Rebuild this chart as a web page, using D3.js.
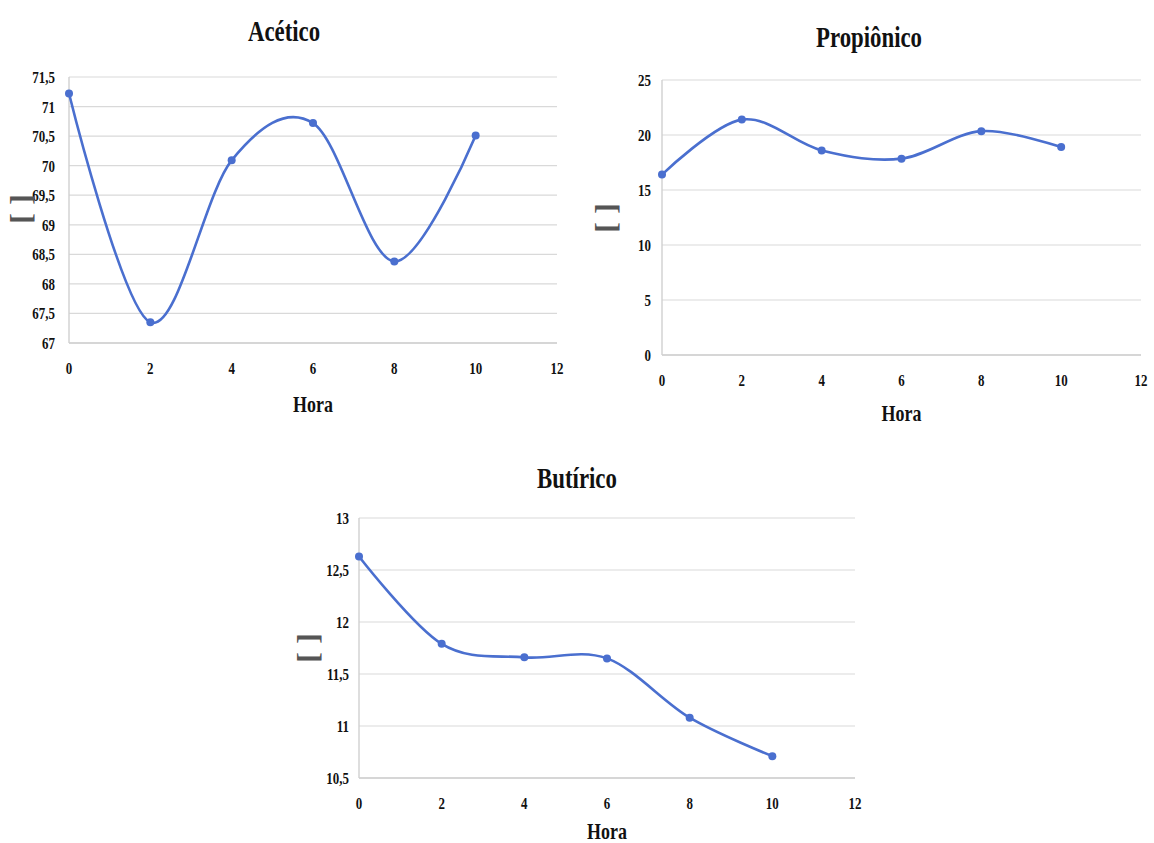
<!DOCTYPE html>
<html><head><meta charset="utf-8">
<script src="https://cdn.jsdelivr.net/npm/d3@7"></script>
<style>body{margin:0;background:#fff}svg{display:block}</style>
</head><body>
<svg id="c" width="1154" height="843"></svg>
<script>
const hours = [0, 2, 4, 6, 8, 10];
const xTicks = [0, 2, 4, 6, 8, 10, 12];

const aceticoValues = [71.22, 67.35, 70.09, 70.72, 68.38, 70.51];
const aceticoTicks = [67, 67.5, 68, 68.5, 69, 69.5, 70, 70.5, 71, 71.5];

const propionicoValues = [16.4, 21.4, 18.6, 17.85, 20.35, 18.9];
const propionicoTicks = [0, 5, 10, 15, 20, 25];

const butiricoValues = [12.63, 11.79, 11.66, 11.65, 11.08, 10.71];
const butiricoTicks = [10.5, 11, 11.5, 12, 12.5, 13];

const titles = ["Acético", "Propiônico", "Butírico"];
const xLabel = "Hora";
const yLabel = "[ ]";

const svg = d3.select("#c");
const FONT = "'Liberation Serif', 'Times New Roman', serif";
const fmt = v => String(v).replace(".", ",");

function txt(g, x, y, s, size, anchor, color, rot, sx) {
  g.append("text")
    .attr("transform", `translate(${x},${y})${rot ? " rotate(" + rot + ")" : ""} scale(${sx || 0.8},1)`)
    .attr("text-anchor", anchor)
    .attr("font-family", FONT).attr("font-weight", "bold")
    .attr("font-size", size).attr("fill", color).text(s);
}

function chart(cfg) {
  const g = svg.append("g");
  const x = d3.scaleLinear().domain([0, 12]).range([cfg.l, cfg.r]);
  const yd = d3.extent(cfg.ticks);
  const y = d3.scaleLinear().domain(yd).range([cfg.b, cfg.t]);

  // gridlines
  g.append("g").selectAll("line").data(cfg.ticks.slice(1)).join("line")
    .attr("x1", cfg.l).attr("x2", cfg.r)
    .attr("y1", d => y(d)).attr("y2", d => y(d))
    .attr("stroke", "#d9d9d9").attr("stroke-width", 1.2);
  // axes lines
  g.append("line").attr("x1", cfg.l).attr("x2", cfg.r).attr("y1", cfg.b).attr("y2", cfg.b)
    .attr("stroke", "#c8c8c8").attr("stroke-width", 1.6);
  g.append("line").attr("x1", cfg.l).attr("x2", cfg.l).attr("y1", cfg.t).attr("y2", cfg.b)
    .attr("stroke", "#d0d0d0").attr("stroke-width", 1.4);

  // y tick labels
  cfg.ticks.forEach(v => txt(g, cfg.l - cfg.ygap, y(v) + 6, fmt(v), 17.5, "end", "#111", 0, 0.74));
  // x tick labels
  xTicks.forEach(v => txt(g, x(v), cfg.b + 31, fmt(v), 17.5, "middle", "#111", 0, 0.74));

  // titles
  txt(g, cfg.titleX, cfg.titleY, cfg.title, 28.5, "middle", "#111");
  txt(g, (cfg.l + cfg.r) / 2, cfg.b + cfg.hy, xLabel, 23, "middle", "#111", 0, 0.78);
  txt(g, cfg.ylx, cfg.yly, yLabel, 30, "middle", "#555", -90, 1.1);

  const pts = hours.map((h, i) => [x(h), y(cfg.values[i])]);
  g.append("path").datum(pts)
    .attr("d", d3.line().curve(d3.curveCatmullRom.alpha(0)))
    .attr("fill", "none").attr("stroke", "#4a6fcf").attr("stroke-width", 2.6);
  g.append("g").selectAll("circle").data(pts).join("circle")
    .attr("cx", d => d[0]).attr("cy", d => d[1]).attr("r", 4)
    .attr("fill", "#4a6fcf");
}

chart({ title: titles[0], values: aceticoValues, ticks: aceticoTicks,
  l: 69, r: 557, t: 77, b: 343, ygap: 14, hy: 69, titleX: 284, titleY: 41, ylx: 31, yly: 209 });
chart({ title: titles[1], values: propionicoValues, ticks: propionicoTicks,
  l: 662, r: 1141, t: 80, b: 355, ygap: 11, hy: 66, titleX: 869, titleY: 47, ylx: 616, yly: 218 });
chart({ title: titles[2], values: butiricoValues, ticks: butiricoTicks,
  l: 359, r: 855, t: 518, b: 778, ygap: 10, hy: 61, titleX: 577, titleY: 488, ylx: 318, yly: 648 });
</script>
</body></html>
